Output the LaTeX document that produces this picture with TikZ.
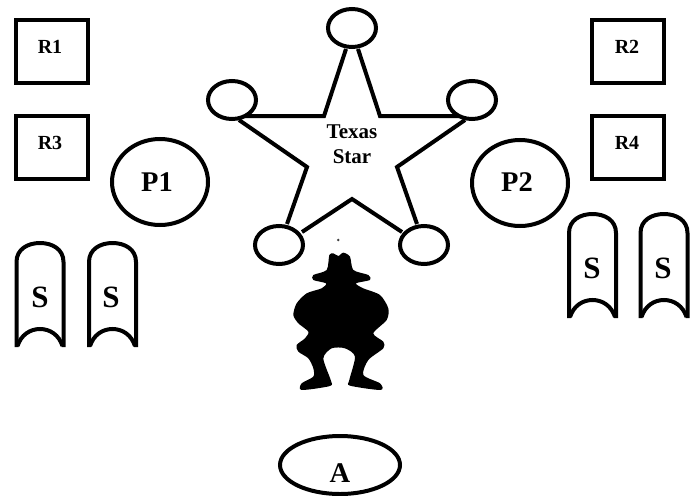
\documentclass[tikz,border=0pt]{standalone}
\usepackage{fontspec}
\setmainfont{Liberation Serif}
\usetikzlibrary{shapes.geometric}
\tikzset{
  thick line/.style={line width=4pt},
  roombox/.style={draw,thick line,minimum width=72.5pt,minimum height=63pt,inner sep=0pt},
  bigoval/.style={draw,ellipse,thick line,minimum width=96pt,minimum height=86pt,inner sep=0pt},
  tipoval/.style={draw,ellipse,fill=white,thick line,minimum width=48pt,minimum height=38pt,inner sep=0pt},
  aoval/.style={draw,ellipse,thick line,minimum width=120pt,minimum height=58pt,inner sep=0pt},
  lab/.style={inner sep=0pt,anchor=base,font=\fontsize{20}{20}\selectfont\bfseries},
  biglab/.style={inner sep=0pt,anchor=base,font=\fontsize{28.5}{28}\selectfont\bfseries},
  slab/.style={inner sep=0pt,anchor=base,font=\fontsize{31}{31}\selectfont\bfseries},
  shield/.pic={
    \draw[thick line,line join=round] (-23.5,52) -- (-23.5,-33)
      .. controls (-23.5,-46) and (-12,-52) .. (0,-52)
      .. controls (12,-52) and (23.5,-46) .. (23.5,-33) -- (23.5,52);
    \draw[thick line] (-22.5,51) .. controls (-19,40) and (-10,34) .. (0,34)
      .. controls (10,34) and (19,40) .. (22.5,51);
  }
}
\begin{document}
\begin{tikzpicture}[x=1pt,y=-1pt]
\useasboundingbox (0,0) rectangle (698,495);
% rooms
\node[roombox] (r1box) at (52,51.5) {};
\node[roombox] (r3box) at (52,147.5) {};
\node[roombox] (r2box) at (628,51.5) {};
\node[roombox] (r4box) at (628,147.5) {};
\node[lab] (r1) at (50,53) {R1};
\node[lab] (r3) at (50,149) {R3};
\node[lab] (r2) at (627,53) {R2};
\node[lab] (r4) at (627,149) {R4};
% P
\node[bigoval] (p1box) at (160,182) {};
\node[bigoval] (p2box) at (520,183) {};
\node[biglab] (p1) at (157,191) {P1};
\node[biglab] (p2) at (517,191) {P2};
% star
\coordinate (s1) at (346,49);
\coordinate (s2) at (324,116);
\coordinate (s3) at (243,116);
\coordinate (s4) at (239,120);
\coordinate (s5) at (307,167);
\coordinate (s6) at (287,224);
\coordinate (s7) at (302,232);
\coordinate (s8) at (352,199);
\coordinate (s9) at (402,232);
\coordinate (s10) at (417,224);
\coordinate (s11) at (397,167);
\coordinate (s12) at (465,120);
\coordinate (s13) at (461,116);
\coordinate (s14) at (380,116);
\coordinate (s15) at (358,49);
\draw[thick line,line join=miter] (s1)--(s2)--(s3);
\draw[thick line,line join=miter] (s4)--(s5)--(s6);
\draw[thick line,line join=miter] (s7)--(s8)--(s9);
\draw[thick line,line join=miter] (s10)--(s11)--(s12);
\draw[thick line,line join=miter] (s13)--(s14)--(s15);
\node[tipoval] (tip1) at (352,28) {};
\node[tipoval] (tip2) at (232,100) {};
\node[tipoval] (tip3) at (472,100) {};
\node[tipoval] (tip4) at (279,245) {};
\node[tipoval] (tip5) at (424,245) {};
\node[lab,font=\fontsize{21}{21}\selectfont\bfseries] (texas) at (352,138) {Texas};
\node[lab,font=\fontsize{21}{21}\selectfont\bfseries] (star) at (352,163) {Star};
% shields
\pic at (40,295) {shield};
\pic at (112.5,295) {shield};
\pic at (592.5,266) {shield};
\pic at (664,266) {shield};
\node[slab] (sa) at (40,307) {S};
\node[slab] (sb) at (111,307) {S};
\node[slab] (sc) at (592,278) {S};
\node[slab] (sd) at (663,278) {S};
% silhouette
\begin{scope}[shift={(270,220)},x=0.3333pt,y=-0.3333pt]
\fill[black] plot[smooth cycle,tension=0.45] coordinates {
 (190,100)(205,108)(220,98)(240,110)(250,150)(295,165)(300,180)(258,190)(280,205)(330,225)(355,265)(350,300)(310,340)(340,365)(340,385)(295,420)(280,465)(330,490)(332,510)(240,497)(238,480)(255,410)(225,385)(185,385)(160,415)(182,480)(180,498)(95,510)(95,490)(130,470)(130,445)(115,415)(85,395)(80,375)(105,355)(115,335)(85,310)(70,285)(80,250)(110,220)(155,205)(168,190)(130,180)(130,165)(170,150)(178,105)};
\fill[black!75] (205,60) circle (4);
\end{scope}
% A
\node[aoval] (abox) at (340,465) {};
\node[biglab] (a) at (340,482) {A};
\end{tikzpicture}
\end{document}
